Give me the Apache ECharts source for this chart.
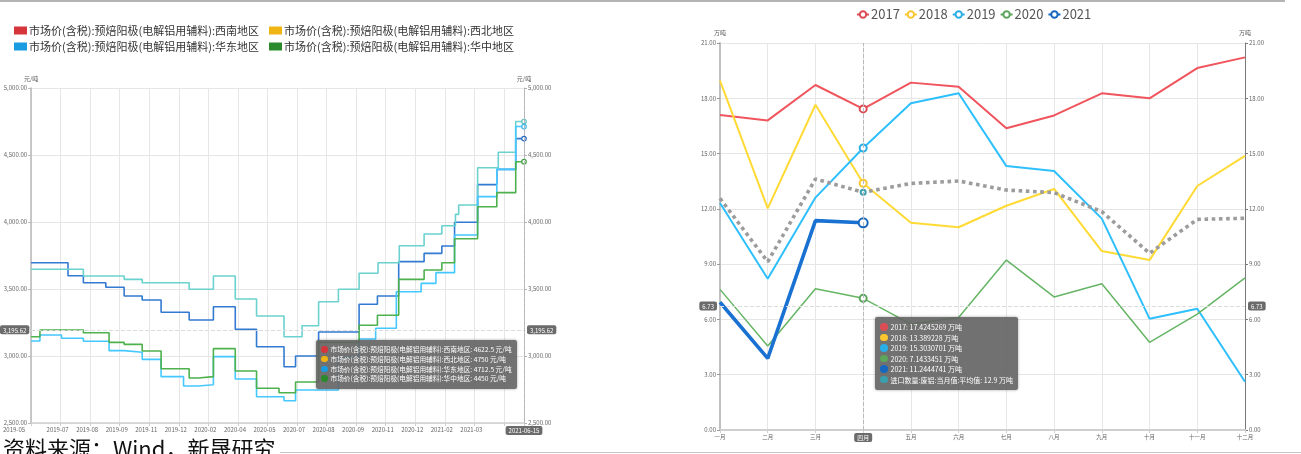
<!DOCTYPE html>
<html>
<head>
<meta charset="utf-8">
<script src="https://cdn.jsdelivr.net/npm/echarts@6/dist/echarts.min.js"></script>
<style>
  html, body { margin: 0; padding: 0; background: #fff; }
  body { width: 1301px; height: 454px; position: relative; overflow: hidden;
         font-family: "Noto Sans CJK SC", "Noto Sans", sans-serif; }
  #priceChart { position: absolute; left: 0; top: 0; width: 560px; height: 454px; }
  #importChart { position: absolute; left: 690px; top: 0; width: 611px; height: 454px; }
  .rule-top { position: absolute; left: 0; top: 0; width: 1285px; height: 2px; background: #b4b4b4; }
  .rule-bottom { position: absolute; left: 280px; top: 452px; width: 1021px; height: 1px; background: #c4c4c4; }
  .source { position: absolute; left: 3px; top: 436px; font-size: 22px; line-height: 22px;
            color: #111; white-space: nowrap; }
</style>
</head>
<body>
<div class="rule-top"></div>
<div id="priceChart"></div>
<div id="importChart"></div>
<div class="rule-bottom"></div>
<div class="source">资料来源：Wind，新晟研究</div>
<script>
// ---------- Left panel: anode prices by region (step lines) ----------
// x is measured in label periods: tick k carries periodLabels[k]
const periodLabels = ['2019-05', '2019-07', '2019-08', '2019-09', '2019-11', '2019-12',
  '2020-02', '2020-04', '2020-05', '2020-07', '2020-08', '2020-09', '2020-11', '2020-12',
  '2021-02', '2021-03'];
const periodEnd = 16.68;
const periodEndDate = '2021-06-15';
const priceUnit = '元/吨';

const regionNames = [
  '市场价(含税):预焙阳极(电解铝用辅料):西南地区',
  '市场价(含税):预焙阳极(电解铝用辅料):西北地区',
  '市场价(含税):预焙阳极(电解铝用辅料):华东地区',
  '市场价(含税):预焙阳极(电解铝用辅料):华中地区'
];

// [period, price] at each price change
const southwest = [[0, 3696], [1.25, 3599], [1.77, 3547], [2.53, 3513], [3.15, 3448], [3.76, 3418],
  [4.40, 3326], [5.35, 3269], [6.17, 3368], [6.91, 3199], [7.63, 3069], [8.56, 2920], [8.95, 3000],
  [9.73, 3179], [11.1, 3386], [11.72, 3448], [12.44, 3704], [13.3, 3766], [13.9, 3821], [14.33, 3998],
  [15.11, 4279], [15.76, 4393], [16.4, 4622.5], [16.68, 4622.5]];
const northwest = [[0, 3647], [1.77, 3597], [3.15, 3572], [3.76, 3547], [5.35, 3498], [6.17, 3597],
  [6.91, 3425], [7.63, 3299], [8.56, 3144], [9.17, 3226], [9.73, 3405], [10.4, 3498], [11.1, 3617],
  [11.74, 3696], [12.46, 3823], [13.3, 3910], [13.9, 3972], [14.36, 4057], [14.47, 4127], [15.11, 4405],
  [15.81, 4520], [16.4, 4750], [16.68, 4750]];
const eastChina = [[0, 3112], [0.3, 3157], [1.03, 3132], [1.77, 3110], [2.64, 3040], [3.15, 3028],
  [3.76, 2975], [4.40, 2846], [5.16, 2776], [5.66, 2786], [6.17, 2995], [6.91, 2828], [7.63, 2696],
  [8.56, 2666], [8.95, 2746], [10.4, 2990], [11.1, 3127], [11.66, 3207], [12.36, 3480], [13.2, 3542],
  [13.7, 3622], [14.33, 3903], [15.11, 4189], [15.76, 4393], [16.4, 4712.5], [16.68, 4712.5]];
const centralChina = [[0, 3144], [0.3, 3194], [1.77, 3174], [2.64, 3102], [3.15, 3087], [3.76, 3037],
  [4.40, 2905], [5.35, 2836], [5.66, 2846], [6.17, 3055], [6.91, 2888], [7.63, 2759], [8.39, 2726],
  [8.95, 2806], [9.73, 3102], [11.1, 3229], [11.72, 3304], [12.44, 3572], [13.3, 3642], [13.9, 3696],
  [14.33, 3875], [15.11, 4114], [15.76, 4219], [16.4, 4450], [16.68, 4450]];

const pointerPrice = 3195.62;

// ---------- Right panel: monthly scrap aluminium imports ----------
const months = ['一月', '二月', '三月', '四月', '五月', '六月', '七月', '八月', '九月', '十月', '十一月', '十二月'];
const years = ['2017', '2018', '2019', '2020', '2021'];
const imports2017 = [17.09, 16.80, 18.72, 17.4245269, 18.85, 18.63, 16.37, 17.07, 18.27, 18.00, 19.64, 20.22];
const imports2018 = [18.96, 12.03, 17.65, 13.389228, 11.25, 11.00, 12.17, 13.08, 9.71, 9.22, 13.24, 14.87];
const imports2019 = [12.32, 8.21, 12.61, 15.3030701, 17.73, 18.27, 14.32, 14.05, 11.47, 6.04, 6.58, 2.62];
const imports2020 = [7.63, 4.56, 7.67, 7.1433451, 5.75, 6.11, 9.22, 7.22, 7.94, 4.76, 6.29, 8.25];
const imports2021 = [6.93, 3.89, 11.36, 11.2444741];
const averageName = '进口数量:废铝:当月值:平均值';
const importsAverage = [12.57, 9.13, 13.62, 12.9, 13.38, 13.51, 13.02, 12.88, 11.85, 9.59, 11.43, 11.49];
const importUnit = '万吨';
const pointerMonth = '四月';
const pointerTons = 6.73;

const FONT = '"Noto Sans CJK SC", "Noto Sans", sans-serif';
const thousands = v => Number(v).toLocaleString('en-US', { minimumFractionDigits: 2, maximumFractionDigits: 2 });
const dot = (c, d) => '<span style="display:inline-block;width:' + d + 'px;height:' + d +
  'px;border-radius:50%;background:' + c + ';margin-right:3px;vertical-align:-0.5px"></span>';
const pointerLabel = {
  backgroundColor: '#6b6b6b', color: '#fff', fontSize: 6, padding: [2, 3, 1, 3], borderRadius: 2,
  fontFamily: FONT
};
const crossStyle = { color: '#dcdcdc', type: 'dashed', width: 1 };

// ---- price chart ----
const legendColors = ['#d7353c', '#eeb515', '#1a9de0', '#2a8a2c'];
const lineColors = ['#2f6fbf', '#62bfbd', '#3fb6ea', '#46a146'];
const regionData = [southwest, northwest, eastChina, centralChina];

const priceChart = echarts.init(document.getElementById('priceChart'));
const priceLegend = (top, names) => ({
  left: 14, top, padding: 0, itemGap: 10, icon: 'rect', itemWidth: 13, itemHeight: 8,
  textStyle: { fontSize: 11, color: '#333', padding: [0, 0, 0, -3] },
  data: names
});
priceChart.setOption({
  animation: false,
  textStyle: { fontFamily: FONT },
  legend: [priceLegend(25, [regionNames[0], regionNames[1]]), priceLegend(41, [regionNames[2], regionNames[3]])],
  grid: { left: 26, right: 36, top: 88, bottom: 31 },
  tooltip: {
    trigger: 'axis', triggerOn: 'none', alwaysShowContent: true, transitionDuration: 0,
    position: [316, 340],
    backgroundColor: 'rgba(98,98,98,0.9)', borderWidth: 0, padding: [5, 5, 5, 5],
    textStyle: { color: '#fff', fontSize: 6.7, fontFamily: FONT },
    extraCssText: 'box-shadow:0 0 3px rgba(0,0,0,0.35);border-radius:2px;line-height:9.8px;',
    axisPointer: { type: 'cross', crossStyle, label: pointerLabel },
    formatter: ps => ps.map(p => dot(p.color, 6.5) + p.seriesName + ': ' + p.value[1] + ' ' + priceUnit).join('<br>')
  },
  xAxis: {
    type: 'value', min: 0, max: periodEnd, interval: 1,
    axisLine: { lineStyle: { color: '#cfcfcf', width: 1.5 } },
    axisTick: { show: true, length: 3, lineStyle: { color: '#cfcfcf' } },
    splitLine: { show: true, lineStyle: { color: '#e6e6e6' } },
    axisLabel: {
      fontSize: 6, color: '#666', margin: 4, padding: [0, 6, 0, 0], alignMinLabel: 'right',
      formatter: v => {
        const k = Math.round(v);
        return Math.abs(v - k) < 1e-6 && k < periodLabels.length ? periodLabels[k] : '';
      }
    },
    axisPointer: {
      snap: true,
      label: Object.assign({}, pointerLabel, {
        formatter: p => (Math.abs(p.value - periodEnd) < 1e-3 ? periodEndDate : '')
      })
    }
  },
  yAxis: [
    { type: 'value', min: 2500, max: 5000, interval: 500, name: priceUnit, nameGap: 6,
      nameTextStyle: { fontSize: 6, color: '#555' },
      axisLine: { show: true, lineStyle: { color: '#b8b8b8', width: 1.5 } },
      axisTick: { show: true, length: 3, lineStyle: { color: '#b8b8b8' } },
      splitLine: { lineStyle: { color: '#e6e6e6' } },
      axisLabel: { fontSize: 6, color: '#666', margin: 4, formatter: thousands },
      axisPointer: { label: Object.assign({}, pointerLabel, { formatter: p => thousands(p.value) }) } },
    { type: 'value', min: 2500, max: 5000, interval: 500, name: priceUnit, nameGap: 6, position: 'right',
      nameTextStyle: { fontSize: 6, color: '#555' },
      axisLine: { show: true, lineStyle: { color: '#b0b0b0', type: 'dotted', width: 1 } },
      axisTick: { show: true, length: 3, lineStyle: { color: '#b0b0b0' } },
      splitLine: { show: false },
      axisLabel: { fontSize: 6, color: '#666', margin: 4, formatter: thousands },
      axisPointer: { label: Object.assign({}, pointerLabel, { formatter: p => thousands(p.value) }) } }
  ],
  series: regionNames.map((name, i) => ({
    name, type: 'line', step: 'end', data: regionData[i],
    showSymbol: false, symbol: 'emptyCircle', symbolSize: 4.5,
    itemStyle: { color: legendColors[i] },
    lineStyle: { color: lineColors[i], width: 1.6 },
    emphasis: { scale: false, itemStyle: { borderColor: lineColors[i], color: '#fff', borderWidth: 1.2 },
                lineStyle: { width: 1.6 } }
  }))
});

// ---- import chart ----
const yearColors = ['#db4d55', '#fbc731', '#2aaee6', '#5ca55c', '#1767be'];
const yearWidths = [2, 2, 2, 1.5, 3.6];
const yearData = [imports2017, imports2018, imports2019, imports2020, imports2021];

const importChart = echarts.init(document.getElementById('importChart'));
const importSeries = years.map((y, i) => ({
  name: y, type: 'line', data: yearData[i],
  showSymbol: false, symbol: 'emptyCircle', symbolSize: i === 4 ? 9 : 7,
  itemStyle: { color: yearColors[i] },
  lineStyle: { color: yearColors[i], width: yearWidths[i] },
  emphasis: { scale: false, lineStyle: { width: yearWidths[i] } }
}));
importSeries.push({
  name: averageName, type: 'line', data: importsAverage,
  showSymbol: false, symbol: 'emptyCircle', symbolSize: 5,
  itemStyle: { color: '#3a9fae' },
  lineStyle: { color: '#8e8e8e', width: 3.6, type: 'dotted' },
  emphasis: { scale: false, lineStyle: { width: 3.6 } }
});

importChart.setOption({
  animation: false,
  textStyle: { fontFamily: FONT },
  legend: {
    left: 166, top: 8, padding: 0, itemGap: 4, itemWidth: 12, itemHeight: 8,
    textStyle: { fontSize: 13, color: '#555', padding: [0, 0, 0, -3] },
    data: years
  },
  grid: { left: 30, right: 56, top: 43, bottom: 24 },
  tooltip: {
    trigger: 'axis', triggerOn: 'none', alwaysShowContent: true, transitionDuration: 0,
    position: [185, 317],
    backgroundColor: 'rgba(98,98,98,0.9)', borderWidth: 0, padding: [5, 5, 5, 5],
    textStyle: { color: '#fff', fontSize: 7, fontFamily: FONT },
    extraCssText: 'box-shadow:0 0 3px rgba(0,0,0,0.35);border-radius:2px;line-height:10.5px;',
    axisPointer: { type: 'cross', crossStyle, label: pointerLabel },
    formatter: ps => ps.map(p => dot(p.color, 7.5) + p.seriesName + ': ' + p.value + ' ' + importUnit).join('<br>')
  },
  xAxis: {
    type: 'category', data: months, boundaryGap: false,
    axisLine: { lineStyle: { color: '#cfcfcf', width: 2 } },
    axisTick: { show: true, length: 3, alignWithLabel: true, lineStyle: { color: '#cfcfcf' } },
    splitLine: { show: true, lineStyle: { color: '#e6e6e6' } },
    axisLabel: { fontSize: 5.5, color: '#666', margin: 4, interval: 0 },
    axisPointer: { label: pointerLabel }
  },
  yAxis: [
    { type: 'value', min: 0, max: 21, interval: 3, name: importUnit, nameGap: 7,
      nameTextStyle: { fontSize: 6, color: '#555' },
      axisLine: { show: true, lineStyle: { color: '#c0c0c0', width: 2 } },
      axisTick: { show: true, length: 3, lineStyle: { color: '#999' } },
      splitLine: { lineStyle: { color: '#e6e6e6' } },
      axisLabel: { fontSize: 6, color: '#666', margin: 4, formatter: v => v.toFixed(2) },
      axisPointer: { label: Object.assign({}, pointerLabel, { formatter: p => p.value.toFixed(2) }) } },
    { type: 'value', min: 0, max: 21, interval: 3, name: importUnit, nameGap: 7, position: 'right',
      nameTextStyle: { fontSize: 6, color: '#555' },
      axisLine: { show: true, lineStyle: { color: '#7a7a7a', width: 1 } },
      axisTick: { show: true, length: 3, lineStyle: { color: '#7a7a7a' } },
      splitLine: { show: false },
      axisLabel: { fontSize: 6, color: '#666', margin: 4, formatter: v => v.toFixed(2) },
      axisPointer: { label: Object.assign({}, pointerLabel, { formatter: p => p.value.toFixed(2) }) } }
  ],
  series: importSeries
});

// Hold the crosshair and tooltip at the latest price / at April.
const px = priceChart.convertToPixel({ gridIndex: 0 }, [periodEnd, pointerPrice]);
priceChart.dispatchAction({ type: 'showTip', x: px[0] - 0.3, y: px[1] });
const ix = importChart.convertToPixel({ gridIndex: 0 }, [pointerMonth, pointerTons]);
importChart.dispatchAction({ type: 'showTip', x: ix[0], y: ix[1] });
</script>
</body>
</html>
